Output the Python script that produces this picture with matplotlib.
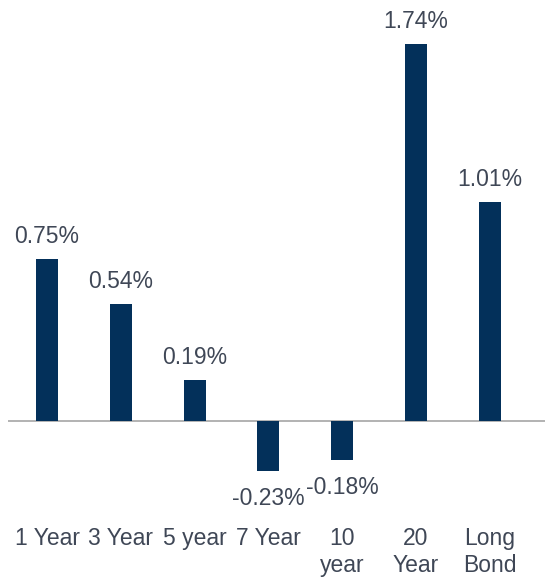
import matplotlib.pyplot as plt
import numpy as np

plt.rcParams['font.family'] = ['Liberation Sans', 'DejaVu Sans']

categories = ['1 Year', '3 Year', '5 year', '7 Year', '10\nyear', '20\nYear', 'Long\nBond']
changes = [0.75, 0.54, 0.19, -0.23, -0.18, 1.74, 1.01]

bar_color = '#03305a'
text_color = '#3f4756'

fig = plt.figure(figsize=(5.45, 5.78), dpi=100)
ax = fig.add_axes([0, 0, 1, 1])

x = np.arange(len(categories))
bars = ax.bar(x, changes, width=0.3, color=bar_color, zorder=2)

# zero line
ax.hlines(0, -0.53, 6.75, color='#a6a6a6', linewidth=1.2, zorder=1)

for xi, v in zip(x, changes):
    if v >= 0:
        ax.annotate(f'{v:.2f}%', (xi, v), xytext=(0, 11.5), textcoords='offset points',
                    ha='center', va='baseline', fontsize=16.5, color=text_color)
    else:
        ax.annotate(f'{v:.2f}%', (xi, v), xytext=(0, -24.5), textcoords='offset points',
                    ha='center', va='baseline', fontsize=16.5, color=text_color)

for xi, lab in zip(x, categories):
    ax.annotate(lab, (xi, 0), xytext=(0, -76.5), textcoords='offset points',
                ha='center', va='top', fontsize=16.5, color=text_color, linespacing=1.2)

ax.set_xlim(-0.637, 6.748)
ax.set_ylim(-0.7245, 1.943)
ax.axis('off')

fig.savefig('out.png', dpi=100, facecolor='white')
